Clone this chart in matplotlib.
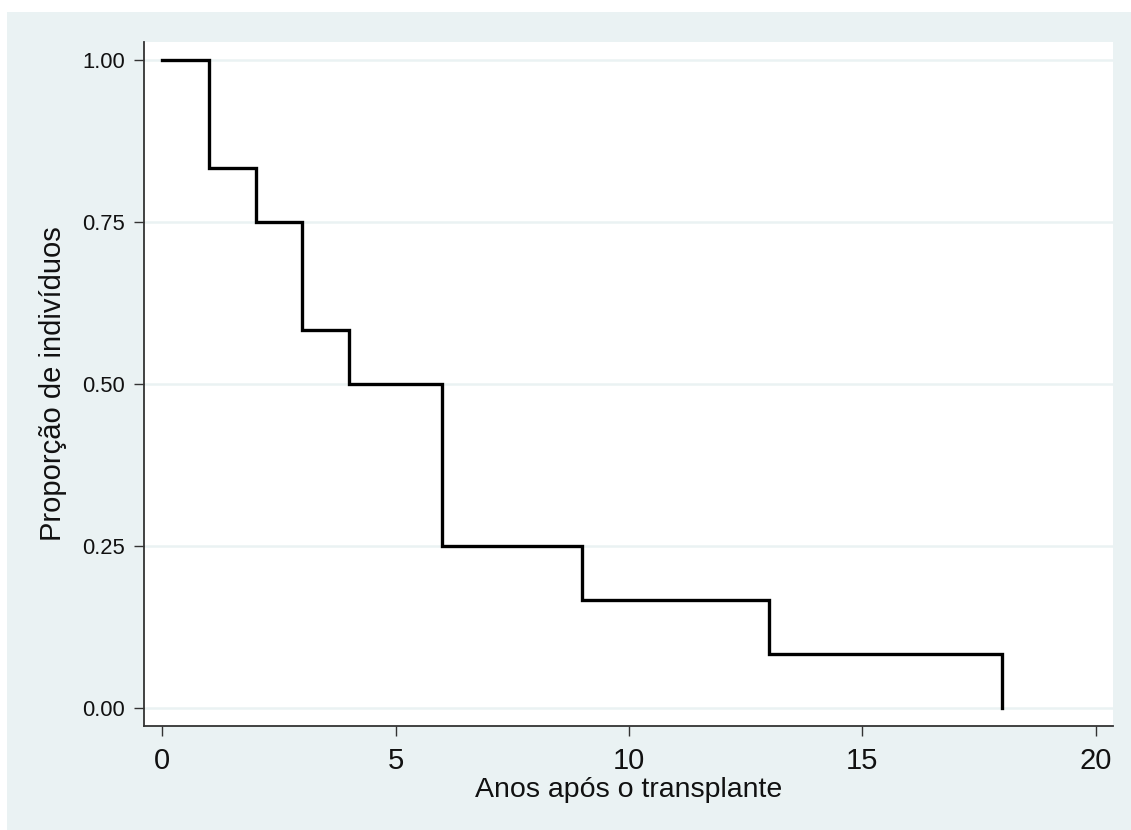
import matplotlib
matplotlib.use("Agg")
import matplotlib.pyplot as plt
from matplotlib.patches import Rectangle

plt.rcParams['font.family'] = ['Liberation Sans', 'DejaVu Sans']

# Kaplan-Meier estimate (12 subjects)
times = [0, 1, 2, 3, 4, 6, 9, 13, 18]
survival = [1.0, 0.8333, 0.75, 0.5833, 0.5, 0.25, 0.1667, 0.0833, 0.0]
xticks = [0, 5, 10, 15, 20]
yticks = [0.0, 0.25, 0.50, 0.75, 1.00]
ytick_labels = ["0.00", "0.25", "0.50", "0.75", "1.00"]
xlabel = "Anos após o transplante"
ylabel = "Proporção de indivíduos"

W, H = 1131, 830
fig = plt.figure(figsize=(W / 100, H / 100), dpi=100)
fig.patch.set_facecolor('white')
bg = '#EAF2F3'
fig.patches.append(Rectangle((7 / W, -0.01), 1.02, 1.01 - 12 / H, transform=fig.transFigure,
                             facecolor=bg, edgecolor='none', zorder=-10))

left, right, top, bottom = 144, 1113, 42, 726
ax = fig.add_axes([left / W, 1 - bottom / H, (right - left) / W, (bottom - top) / H])
ax.set_facecolor('white')

# step function: horizontal then vertical drop
ax.step(times, survival, where='post', color='black', lw=2.4, solid_joinstyle='miter')

ax.set_xlim(-0.39, 20.37)
ax.set_ylim(-0.027, 1.028)
ax.set_xticks(xticks)
ax.set_yticks(yticks)
ax.set_yticklabels(ytick_labels)

for y in yticks:
    ax.axhline(y, color=bg, lw=1.8, zorder=0)

for s in ['top', 'right']:
    ax.spines[s].set_visible(False)
for s in ['left', 'bottom']:
    ax.spines[s].set_color('#333333')
    ax.spines[s].set_linewidth(1.3)

ax.tick_params(axis='x', direction='out', length=7.5, width=1.0, color='#333333',
               labelsize=21, pad=7.5, labelcolor='#111111')
ax.tick_params(axis='y', direction='out', length=7.5, width=1.0, color='#333333',
               labelsize=15.8, pad=6, labelcolor='#111111')

ax.set_xlabel(xlabel, fontsize=20.5, color='#111111', labelpad=1.5)
ax.set_ylabel(ylabel, fontsize=21, color='#111111', labelpad=11)

fig.savefig('out.png', dpi=100, facecolor=fig.get_facecolor())
